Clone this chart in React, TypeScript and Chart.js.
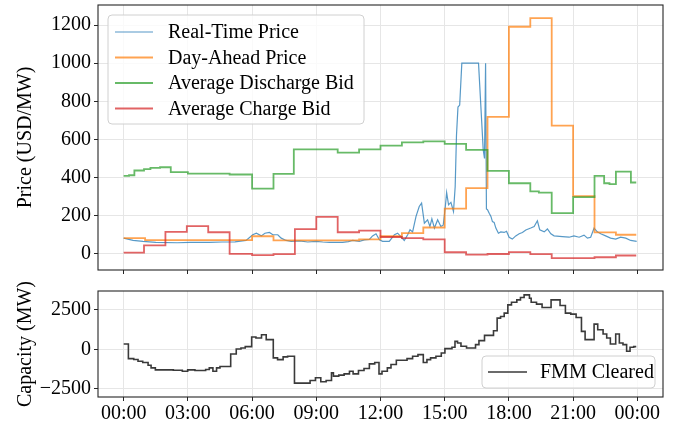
import React, { useEffect, useRef } from 'react';
import { Chart, registerables } from 'chart.js';

Chart.register(...registerables);

const FONT = "'Liberation Serif', 'Times New Roman', serif";

// ---- axes ----
const xTickHours = [0, 3, 6, 9, 12, 15, 18, 21, 24];
const xTickLabels = ['00:00', '03:00', '06:00', '09:00', '12:00', '15:00', '18:00', '21:00', '00:00'];
const priceTicks = [0, 200, 400, 600, 800, 1000, 1200];
const priceTickLabels = ['0', '200', '400', '600', '800', '1000', '1200'];
const capacityTicks = [-2500, 0, 2500];
const capacityTickLabels = ['\u22122500', '0', '2500'];

// ---- Real-Time Price ----
const rtHours = [
  0, 0.44, 0.9, 1.5, 2.5, 3.1, 4.0, 4.6, 5.2, 5.72,
  6.03, 6.2, 6.43, 6.6, 6.81, 6.97, 7.2, 7.36, 7.59, 7.83,
  8.21, 8.6, 8.99, 9.3, 9.61, 10.23, 10.5, 10.7, 11.01, 11.25,
  11.48, 11.63, 11.79, 11.95, 12.1, 12.41, 12.65, 12.8, 12.95, 13.11,
  13.27, 13.38, 13.5, 13.66, 13.81, 13.92, 14.05, 14.2, 14.31, 14.4,
  14.52, 14.67, 14.82, 14.93, 15.03, 15.09, 15.18, 15.29, 15.41, 15.49,
  15.55, 15.62, 15.7, 15.8, 16.58, 16.8, 16.86, 16.91, 16.95, 17.0,
  17.08, 17.16, 17.23, 17.31, 17.39, 17.51, 17.62, 17.78, 17.89, 18.01,
  18.16, 18.32, 18.48, 18.63, 18.79, 19.02, 19.18, 19.33, 19.44, 19.65,
  19.8, 19.96, 20.11, 20.5, 20.81, 21.04, 21.28, 21.51, 21.67, 21.82,
  21.98, 22.13, 22.29, 22.52, 22.75, 22.99, 23.22, 23.46, 23.69, 23.97,
];
const rtPrice = [
  82, 70, 65, 60, 58, 60, 60, 62, 63, 70,
  100, 108, 94, 108, 112, 100, 100, 82, 70, 65,
  68, 62, 65, 62, 60, 60, 64, 70, 65, 73,
  75, 94, 105, 73, 65, 65, 100, 108, 90, 70,
  100, 126, 115, 196, 248, 266, 161, 178, 143, 183,
  135, 178, 143, 150, 248, 321, 257, 270, 222, 353,
  620, 770, 780, 1000, 1000, 545, 500, 1000, 235, 231,
  213, 196, 169, 165, 135, 108, 115, 112, 118, 87,
  77, 94, 105, 112, 125, 135, 143, 173, 126, 115,
  130, 105, 94, 90, 87, 94, 87, 98, 82, 87,
  135, 115, 105, 94, 82, 77, 87, 82, 70, 65,
];

// ---- Day-Ahead Price (step starts) ----
const daHours = [0, 1, 6, 7, 11, 12, 13, 14, 15, 16, 17, 18, 19, 20, 21, 22, 23, 23.95];
const daPrice = [82, 72, 92, 70, 76, 92, 108, 138, 237, 344, 718, 1191, 1236, 672, 302, 112, 100, 100];

// ---- Average Discharge Bid (step starts) ----
const disHours = [
  0, 0.25, 0.5, 0.95, 1.25, 1.7, 2.2, 3.0, 4.95, 6.0,
  7.0, 7.95, 10.0, 11.0, 12.0, 13.0, 14.0, 15.0, 16.0, 17.0,
  18.0, 19.0, 19.4, 20.0, 21.0, 22.0, 22.45, 22.7, 23.0, 23.7, 23.95,
];
const disPrice = [
  409, 412, 437, 444, 451, 454, 428, 420, 416, 342,
  419, 548, 531, 548, 567, 584, 590, 577, 545, 435,
  370, 327, 321, 213, 297, 409, 370, 365, 431, 374, 374,
];

// ---- Average Charge Bid (step starts) ----
const chHours = [
  0, 0.95, 1.95, 2.95, 3.95, 4.95, 6.0, 7.0, 8.0, 9.0,
  10.0, 11.0, 12.0, 13.0, 14.0, 15.0, 16.0, 17.0, 18.0, 19.0,
  20.0, 22.0, 23.0, 23.95,
];
const chPrice = [
  6, 44, 115, 145, 113, 0, -7, -2, 129, 194,
  113, 122, 88, 82, 76, 8, -4, -1, 9, -2,
  -23, -18, -9, -9,
];

// ---- FMM Cleared capacity (step starts) ----
const fmmHours = [
  0, 0.22, 0.47, 0.67, 0.89, 1.14, 1.28, 1.48, 2.32, 2.74,
  2.99, 3.33, 3.83, 4.0, 4.17, 4.34, 4.5, 5.0, 5.26, 5.48,
  5.68, 5.98, 6.18, 6.44, 6.66, 6.99, 7.19, 7.45, 7.66, 7.98,
  8.71, 8.96, 9.21, 9.46, 9.71, 9.8, 10.05, 10.3, 10.55, 10.72,
  10.97, 11.23, 11.48, 11.73, 11.93, 12.07, 12.32, 12.49, 12.74, 13.24,
  13.5, 13.75, 14.0, 14.17, 14.34, 14.59, 14.84, 15.01, 15.34, 15.48,
  15.6, 15.76, 16.02, 16.44, 16.6, 16.86, 17.11, 17.28, 17.45, 17.61,
  17.78, 17.95, 18.12, 18.37, 18.54, 18.71, 18.96, 19.04, 19.29, 19.55,
  19.97, 20.39, 20.64, 20.89, 21.14, 21.39, 21.56, 21.98, 22.15, 22.4,
  22.57, 22.74, 22.99, 23.16, 23.33, 23.5, 23.66, 23.83, 23.95,
];
const fmmMW = [
  336, -588, -650, -756, -840, -1008, -1176, -1302, -1323, -1386,
  -1302, -1344, -1281, -1176, -1386, -1176, -1092, -300, 21, 84,
  168, 777, 714, 924, 609, -546, -651, -483, -441, -2142,
  -1974, -1806, -2058, -1974, -1491, -1701, -1638, -1554, -1386, -1554,
  -1344, -1218, -924, -840, -1554, -1386, -1176, -966, -693, -588,
  -441, -336, -840, -651, -546, -441, -231, 42, 126, 504,
  399, 189, 84, 294, 546, 882, 882, 1176, 1974, 2079,
  2289, 2814, 2982, 3129, 3276, 3444, 3234, 2982, 2856, 2646,
  3129, 2772, 2289, 2226, 2016, 1134, 609, 1596, 1239, 966,
  714, 336, 966, 399, 294, -126, 126, 168, 168,
];

const pts = (xs: number[], ys: number[]) => xs.map((x, i) => ({ x, y: ys[i] }));

const GRID = '#e6e6e6';
const AXIS = '#262626';

const framePlugin = {
  id: 'frame',
  afterDatasetsDraw(chart: any) {
    const { left, top, right, bottom } = chart.chartArea;
    const ctx = chart.ctx;
    ctx.save();
    ctx.strokeStyle = AXIS;
    ctx.lineWidth = 1.1;
    ctx.strokeRect(left, top, right - left, bottom - top);
    ctx.restore();
  },
};

function makeLegend(box: { x: number; y: number; w: number; h: number }, lineX0: number, lineX1: number, textX: number, rowY0: number, rowGap: number) {
  return {
    id: 'boxLegend',
    afterDraw(chart: any) {
      const ctx = chart.ctx;
      ctx.save();
      const r = 4;
      const { x, y, w, h } = box;
      ctx.beginPath();
      ctx.moveTo(x + r, y);
      ctx.lineTo(x + w - r, y);
      ctx.arcTo(x + w, y, x + w, y + r, r);
      ctx.lineTo(x + w, y + h - r);
      ctx.arcTo(x + w, y + h, x + w - r, y + h, r);
      ctx.lineTo(x + r, y + h);
      ctx.arcTo(x, y + h, x, y + h - r, r);
      ctx.lineTo(x, y + r);
      ctx.arcTo(x, y, x + r, y, r);
      ctx.closePath();
      ctx.fillStyle = 'rgba(255,255,255,0.8)';
      ctx.fill();
      ctx.strokeStyle = '#d0d0d0';
      ctx.lineWidth = 1;
      ctx.stroke();
      ctx.font = `20px ${FONT}`;
      ctx.textBaseline = 'middle';
      ctx.textAlign = 'left';
      chart.data.datasets.forEach((ds: any, i: number) => {
        const yy = rowY0 + i * rowGap;
        ctx.beginPath();
        ctx.strokeStyle = ds.borderColor;
        ctx.lineWidth = ds.borderWidth;
        ctx.moveTo(lineX0, yy);
        ctx.lineTo(lineX1, yy);
        ctx.stroke();
        ctx.fillStyle = '#000';
        ctx.fillText(ds.label, textX, yy + 1);
      });
      ctx.restore();
    },
  };
}

const xScale = (showLabels: boolean, height: number) => ({
  type: 'linear' as const,
  min: -1.2,
  max: 25.2,
  afterBuildTicks: (s: any) => {
    s.ticks = xTickHours.map((v) => ({ value: v }));
  },
  afterFit: (s: any) => {
    s.height = height;
    s.paddingLeft = 0;
    s.paddingRight = 0;
  },
  ticks: {
    autoSkip: false,
    maxRotation: 0,
    minRotation: 0,
    padding: 1,
    color: '#000',
    font: { family: FONT, size: 20 },
    callback: (v: any) => (showLabels ? xTickLabels[xTickHours.indexOf(v)] : ''),
  },
  grid: { color: GRID, lineWidth: 1, tickColor: AXIS, tickLength: 4, drawTicks: true },
  border: { display: false },
});

export default function App() {
  const topRef = useRef<HTMLCanvasElement>(null);
  const botRef = useRef<HTMLCanvasElement>(null);

  useEffect(() => {
    Chart.defaults.font.family = FONT;
    const top = new Chart(topRef.current as HTMLCanvasElement, {
      type: 'line',
      data: {
        datasets: [
          { label: 'Real-Time Price', data: pts(rtHours, rtPrice), borderColor: 'rgba(31,119,180,0.75)', borderWidth: 1.2, pointRadius: 0, order: 3 },
          { label: 'Day-Ahead Price', data: pts(daHours, daPrice), borderColor: 'rgba(255,127,14,0.72)', borderWidth: 1.8, pointRadius: 0, stepped: true, order: 2 },
          { label: 'Average Discharge Bid', data: pts(disHours, disPrice), borderColor: 'rgba(44,160,44,0.72)', borderWidth: 1.8, pointRadius: 0, stepped: true, order: 1 },
          { label: 'Average Charge Bid', data: pts(chHours, chPrice), borderColor: 'rgba(214,39,40,0.72)', borderWidth: 1.8, pointRadius: 0, stepped: true, order: 0 },
        ],
      } as any,
      options: {
        responsive: false,
        maintainAspectRatio: false,
        animation: false,
        layout: { padding: { left: 0, right: 20, top: 5, bottom: 0 } },
        plugins: { legend: { display: false }, tooltip: { enabled: false } },
        scales: {
          x: xScale(false, 10) as any,
          y: {
            type: 'linear',
            min: -85,
            max: 1305,
            afterBuildTicks: (s: any) => {
              s.ticks = priceTicks.map((v) => ({ value: v }));
            },
            afterFit: (s: any) => {
              s.width = 98;
              s.paddingTop = 0;
              s.paddingBottom = 0;
            },
            ticks: {
              color: '#000',
              padding: 3,
              font: { family: FONT, size: 20 },
              callback: (v: any) => priceTickLabels[priceTicks.indexOf(v)],
            },
            grid: { color: GRID, lineWidth: 1, tickColor: AXIS, tickLength: 4 },
            border: { display: false },
            title: { display: true, text: 'Price (USD/MW)', color: '#000', font: { family: FONT, size: 20 }, padding: { top: 14, bottom: 0 } },
          } as any,
        },
      },
      plugins: [framePlugin, makeLegend({ x: 108, y: 15, w: 256, h: 109 }, 115, 153, 168, 32, 25.5)],
    });

    const bot = new Chart(botRef.current as HTMLCanvasElement, {
      type: 'line',
      data: {
        datasets: [
          { label: 'FMM Cleared', data: pts(fmmHours, fmmMW), borderColor: '#3a3a3a', borderWidth: 1.6, pointRadius: 0, stepped: true },
        ],
      } as any,
      options: {
        responsive: false,
        maintainAspectRatio: false,
        animation: false,
        layout: { padding: { left: 0, right: 20, top: 11, bottom: 0 } },
        plugins: { legend: { display: false }, tooltip: { enabled: false } },
        scales: {
          x: xScale(true, 24) as any,
          y: {
            type: 'linear',
            min: -3020,
            max: 3690,
            afterBuildTicks: (s: any) => {
              s.ticks = capacityTicks.map((v) => ({ value: v }));
            },
            afterFit: (s: any) => {
              s.width = 98;
              s.paddingTop = 0;
              s.paddingBottom = 0;
            },
            ticks: {
              color: '#000',
              padding: 3,
              font: { family: FONT, size: 20 },
              callback: (v: any) => capacityTickLabels[capacityTicks.indexOf(v)],
            },
            grid: { color: GRID, lineWidth: 1, tickColor: AXIS, tickLength: 4 },
            border: { display: false },
            title: { display: true, text: 'Capacity (MW)', color: '#000', font: { family: FONT, size: 20 }, padding: { top: 14, bottom: 0 } },
          } as any,
        },
      },
      plugins: [framePlugin, makeLegend({ x: 482, y: 76, w: 173, h: 32 }, 488, 527, 540, 92, 25)],
    });

    return () => {
      top.destroy();
      bot.destroy();
    };
  }, []);

  return (
    <div style={{ position: 'absolute', left: 0, top: 0, width: 683, height: 421, background: '#fff' }}>
      <canvas ref={topRef} width={683} height={280} style={{ position: 'absolute', left: 0, top: 0, display: 'block' }} />
      <canvas ref={botRef} width={683} height={141} style={{ position: 'absolute', left: 0, top: 280, display: 'block' }} />
    </div>
  );
}
